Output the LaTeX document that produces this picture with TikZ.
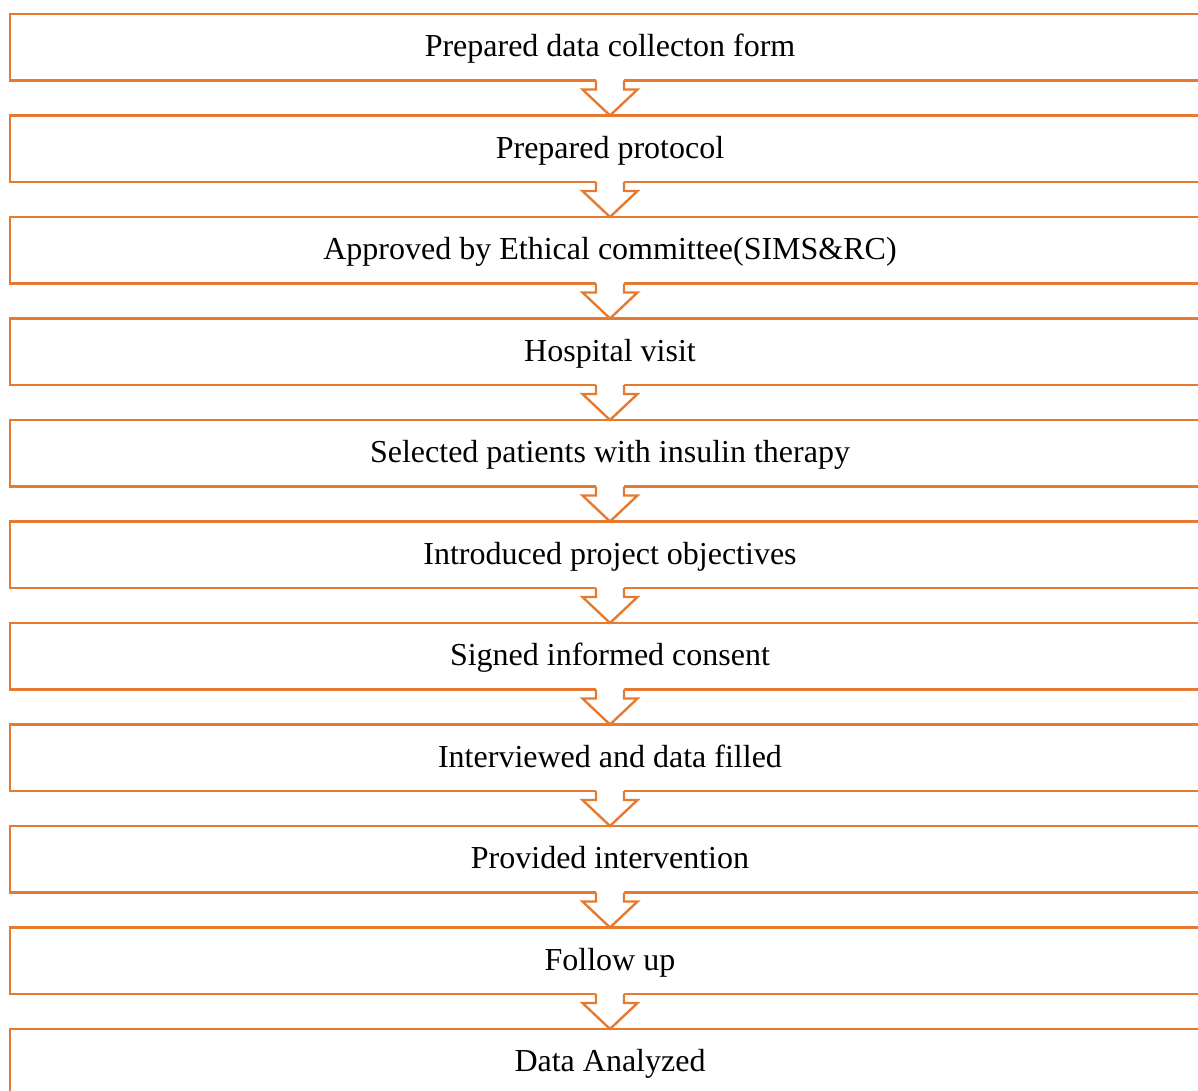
\documentclass[tikz,border=0pt]{standalone}
\usepackage{fontspec}
\setmainfont{Liberation Serif}
\usetikzlibrary{positioning,calc}
\definecolor{flowline}{RGB}{230,122,48}

\begin{document}
\begin{tikzpicture}%
        [x=1pt, y=-1pt,
        node distance=35pt,
        box/.style={draw=flowline, line width=2.4pt, outer sep=0pt, inner sep=0pt,
                    minimum width=1200pt, minimum height=66.5pt,
                    text height=24pt, text depth=5pt,
                    font=\fontsize{32}{38}\selectfont},
        arrowline/.style={draw=flowline, line width=2.4pt, line join=miter}]

    \useasboundingbox (0,0) rectangle (1198,1091);
    %% Drawing the steps
    \node[box] (form) at (610,47.25) {Prepared data collecton form};
    \node[box, below=of form] (protocol) {Prepared protocol};
    \node[box, below=of protocol] (ethics) {Approved by Ethical committee(SIMS\&RC)};
    \node[box, below=of ethics] (visit) {Hospital visit};
    \node[box, below=of visit] (patients) {Selected patients with insulin therapy};
    \node[box, below=of patients] (objectives) {Introduced project objectives};
    \node[box, below=of objectives] (consent) {Signed informed consent};
    \node[box, below=of consent] (interview) {Interviewed and data filled};
    \node[box, below=of interview] (intervention) {Provided intervention};
    \node[box, below=of intervention] (followup) {Follow up};
    \node[box, below=of followup] (analysis) {Data Analyzed};
    %%
    %% Drawing the block arrows
    %%
    \foreach \a/\b in {form/protocol, protocol/ethics, ethics/visit, visit/patients,
                       patients/objectives, objectives/consent, consent/interview,
                       interview/intervention, intervention/followup, followup/analysis}
    {
        \fill[white] ($(\a.south)+(-14,-2)$) -- ($(\a.south)+(-14,9)$) -- ($(\a.south)+(-27.5,9)$)
            -- (\b.north) -- ($(\a.south)+(27.5,9)$) -- ($(\a.south)+(14,9)$)
            -- ($(\a.south)+(14,-2)$) -- cycle;
        \draw[arrowline] ($(\a.south)+(-14,0)$) -- ($(\a.south)+(-14,9)$) -- ($(\a.south)+(-27.5,9)$)
            -- (\b.north) -- ($(\a.south)+(27.5,9)$) -- ($(\a.south)+(14,9)$)
            -- ($(\a.south)+(14,0)$);
    }
    %%
\end{tikzpicture}
\end{document}
